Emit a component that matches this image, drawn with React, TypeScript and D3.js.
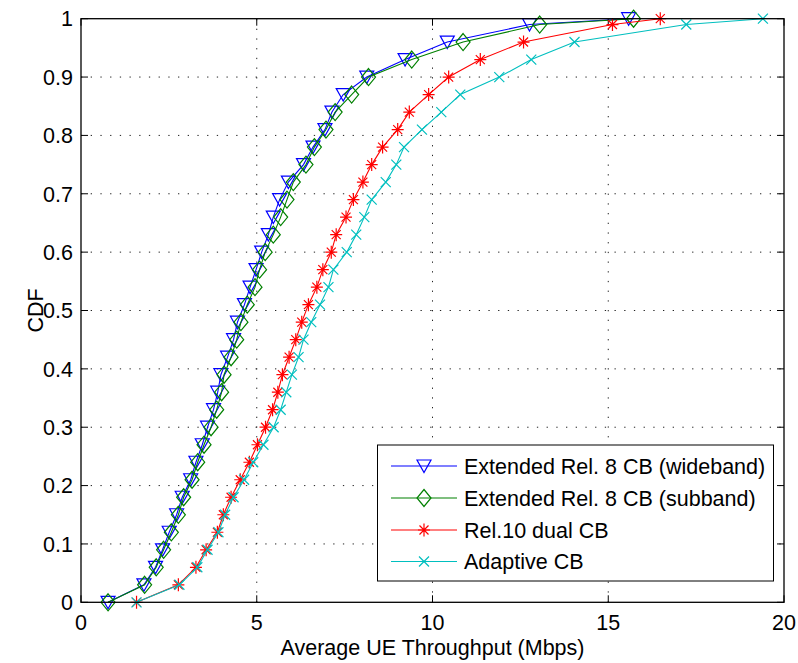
import React from "react";
import * as d3 from "d3";

const cdfLevels = [0, 0.03, 0.06, 0.09, 0.12, 0.15, 0.18, 0.21, 0.24, 0.27, 0.3, 0.33, 0.36, 0.39, 0.42, 0.45, 0.48, 0.51, 0.54, 0.57, 0.6, 0.63, 0.66, 0.69, 0.72, 0.75, 0.78, 0.81, 0.84, 0.87, 0.9, 0.93, 0.96, 0.99, 1.0];

const widebandX = [0.77, 1.79, 2.12, 2.32, 2.51, 2.72, 2.88, 3.12, 3.27, 3.45, 3.6, 3.77, 3.89, 3.98, 4.17, 4.34, 4.45, 4.65, 4.81, 4.98, 5.14, 5.33, 5.47, 5.65, 5.9, 6.33, 6.6, 6.94, 7.14, 7.46, 8.13, 9.22, 10.42, 12.76, 15.58];
const subbandX = [0.77, 1.81, 2.14, 2.35, 2.57, 2.77, 2.92, 3.16, 3.32, 3.5, 3.7, 3.86, 4.0, 4.07, 4.27, 4.43, 4.55, 4.73, 4.95, 5.08, 5.24, 5.47, 5.68, 5.86, 6.04, 6.4, 6.64, 6.97, 7.23, 7.7, 8.18, 9.41, 10.87, 13.05, 15.72];
const dualX = [1.58, 2.77, 3.27, 3.56, 3.88, 4.05, 4.27, 4.53, 4.79, 5.02, 5.25, 5.45, 5.6, 5.73, 5.92, 6.11, 6.28, 6.47, 6.71, 6.88, 7.12, 7.26, 7.54, 7.75, 8.02, 8.27, 8.58, 9.01, 9.34, 9.89, 10.46, 11.36, 12.59, 15.12, 16.48];
const adaptiveX = [1.58, 2.8, 3.31, 3.6, 3.91, 4.1, 4.34, 4.64, 4.9, 5.19, 5.48, 5.68, 5.84, 6.0, 6.19, 6.33, 6.55, 6.8, 7.04, 7.18, 7.56, 7.83, 8.06, 8.27, 8.67, 8.97, 9.19, 9.7, 10.25, 10.79, 11.9, 12.81, 14.04, 17.22, 19.4];

const seriesNames = ["Extended Rel. 8 CB (wideband)", "Extended Rel. 8 CB (subband)", "Rel.10 dual CB", "Adaptive CB"];
const seriesColors = ["#0000ff", "#008000", "#ff0000", "#00bfbf"];
const seriesMarkers = ["triangleDown", "diamond", "star", "cross"];
const seriesData = [widebandX, subbandX, dualX, adaptiveX];

const xTicks = [0, 5, 10, 15, 20];
const yTicks = [0, 0.1, 0.2, 0.3, 0.4, 0.5, 0.6, 0.7, 0.8, 0.9, 1];
const yTickLabels = ["0", "0.1", "0.2", "0.3", "0.4", "0.5", "0.6", "0.7", "0.8", "0.9", "1"];
const xLabel = "Average UE Throughput (Mbps)";
const yLabel = "CDF";

const W = 798, H = 663;
const L = 81, R = 784, T = 18.7, B = 602.3;
const FONT = "'Liberation Sans', Arial, Helvetica, sans-serif";
const FS = 21.5;

function markerPath(kind: string): string {
  switch (kind) {
    case "triangleDown":
      return "M-7,-6L7,-6L0,6.5Z";
    case "diamond":
      return "M0,-8.5L7,0L0,8.5L-7,0Z";
    case "star":
      return "M-6,0L6,0M0,-6.5L0,6.5M-4.5,-4.5L4.5,4.5M-4.5,4.5L4.5,-4.5";
    case "cross":
      return "M-5,-5L5,5M-5,5L5,-5";
  }
  return "";
}

export default function App() {
  const x = d3.scaleLinear().domain([0, 20]).range([L, R]);
  const y = d3.scaleLinear().domain([0, 1]).range([B, T]);
  const line = d3.line<[number, number]>().x((d) => x(d[0])).y((d) => y(d[1]));

  const legX = 377.5, legY = 445, legW = 396, legH = 136;
  const legRows = [466, 498, 530, 561.5];

  return (
    <div style={{ position: "fixed", left: 0, top: 0 }}>
      <svg width={W} height={H} style={{ display: "block", background: "#fff" }} fontFamily={FONT}>
        <rect x={0} y={0} width={W} height={H} fill="#fff" />
        {/* grid */}
        {yTicks.filter((t) => t > 0 && t < 1).map((t) => (
          <line key={"gy" + t} x1={L} x2={R} y1={y(t)} y2={y(t)} stroke="#222" strokeWidth={1} strokeDasharray="1.3,8.4" />
        ))}
        {xTicks.filter((t) => t > 0 && t < 20).map((t) => (
          <line key={"gx" + t} x1={x(t)} x2={x(t)} y1={B} y2={T} stroke="#222" strokeWidth={1} strokeDasharray="1.3,8.4" />
        ))}
        {/* ticks */}
        {yTicks.map((t) => (
          <g key={"ty" + t}>
            <line x1={L} x2={L + 7} y1={y(t)} y2={y(t)} stroke="#000" />
            <line x1={R} x2={R - 7} y1={y(t)} y2={y(t)} stroke="#000" />
          </g>
        ))}
        {xTicks.map((t) => (
          <g key={"tx" + t}>
            <line x1={x(t)} x2={x(t)} y1={B} y2={B - 7} stroke="#000" />
            <line x1={x(t)} x2={x(t)} y1={T} y2={T + 7} stroke="#000" />
          </g>
        ))}
        {/* series */}
        {seriesData.map((xs, i) => {
          const pts: [number, number][] = xs.map((v, j) => [v, cdfLevels[j]]);
          return (
            <g key={"s" + i}>
              <path d={line(pts) || ""} fill="none" stroke={seriesColors[i]} strokeWidth={1.1} />
              {pts.map((p, j) => (
                <path key={j} transform={`translate(${x(p[0])},${y(p[1])})`} d={markerPath(seriesMarkers[i])} fill="none" stroke={seriesColors[i]} strokeWidth={1.2} />
              ))}
            </g>
          );
        })}
        {/* axes box */}
        <rect x={L} y={T} width={R - L} height={B - T} fill="none" stroke="#000" strokeWidth={1.3} />
        {/* tick labels */}
        {yTicks.map((t, i) => (
          <text key={"ly" + t} x={73} y={y(t)} dy="0.36em" textAnchor="end" fontSize={FS} fill="#000">{yTickLabels[i]}</text>
        ))}
        {xTicks.map((t) => (
          <text key={"lx" + t} x={x(t)} y={630} textAnchor="middle" fontSize={FS} fill="#000">{String(t)}</text>
        ))}
        <text x={(L + R) / 2} y={655} textAnchor="middle" fontSize={FS} fill="#000">{xLabel}</text>
        <text transform={`translate(43,${(T + B) / 2}) rotate(-90)`} textAnchor="middle" fontSize={FS} fill="#000">{yLabel}</text>
        {/* legend */}
        <rect x={legX} y={legY} width={legW} height={legH} fill="#fff" stroke="#000" strokeWidth={1} />
        {seriesNames.map((name, i) => (
          <g key={"lg" + i}>
            <line x1={391} x2={457} y1={legRows[i]} y2={legRows[i]} stroke={seriesColors[i]} strokeWidth={1.1} />
            <path transform={`translate(424,${legRows[i]})`} d={markerPath(seriesMarkers[i])} fill="none" stroke={seriesColors[i]} strokeWidth={1.2} />
            <text x={464} y={legRows[i]} dy="0.36em" fontSize={FS} fill="#000">{name}</text>
          </g>
        ))}
      </svg>
    </div>
  );
}
